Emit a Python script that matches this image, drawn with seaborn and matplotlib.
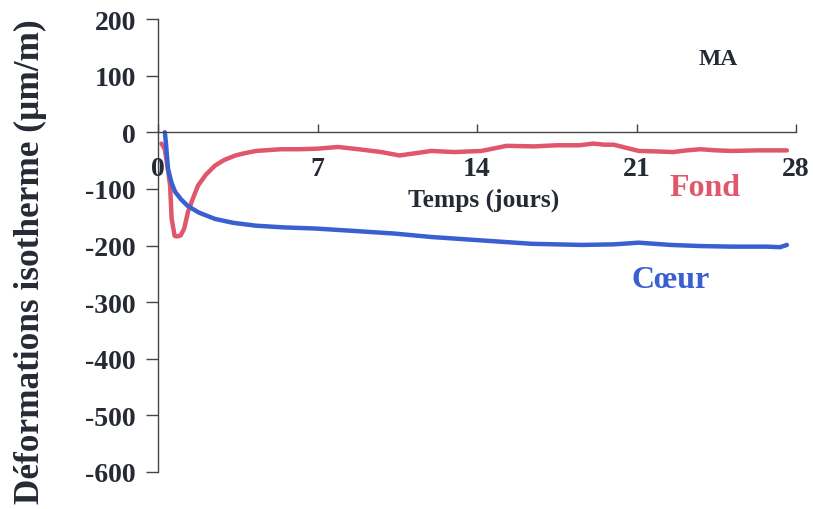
import matplotlib
matplotlib.use("Agg")
import matplotlib.pyplot as plt
import seaborn as sns
import pandas as pd

# Isothermal strain measurements (µm/m) over 28 days
fond_days = [0.15, 0.3, 0.45, 0.53, 0.6, 0.73, 0.85, 1.0, 1.15, 1.32, 1.55, 1.76, 2.1, 2.5,
             2.9, 3.4, 3.8, 4.3, 5.4, 6.2, 7.0, 7.9, 8.8, 9.8, 10.6, 11.3, 12.0, 13.0,
             14.2, 15.3, 16.5, 17.5, 18.5, 19.1, 19.6, 20.0, 20.6, 21.1, 22.0, 22.6,
             23.2, 23.8, 24.5, 25.2, 26.3, 27.6]
fond_vals = [-20, -30, -70, -94, -153, -183, -184, -182, -170, -140, -115, -94, -75, -59,
             -49, -41, -37, -33, -30, -30, -29, -26, -30, -35, -41, -37, -33, -35,
             -33, -24, -25, -23, -23, -20, -22, -22, -28, -33, -34, -35,
             -32, -30, -32, -33, -32, -32]

coeur_days = [0.3, 0.35, 0.44, 0.6, 0.75, 1.0, 1.3, 1.8, 2.5, 3.3, 4.3, 5.5, 6.9, 8.5,
              10.4, 12.0, 14.2, 16.4, 18.6, 20.0, 21.1, 22.5, 23.8, 25.2, 26.7, 27.3, 27.6]
coeur_vals = [0, -20, -65, -90, -105, -118, -130, -142, -153, -160, -165, -168, -170, -174,
              -179, -185, -191, -197, -199, -198, -195, -199, -201, -202, -202, -203, -199]

x_ticks = [0, 7, 14, 21, 28]
y_ticks = [200, 100, 0, -100, -200, -300, -400, -500, -600]

df = pd.concat([
    pd.DataFrame({"jours": fond_days, "def": fond_vals, "zone": "Fond"}),
    pd.DataFrame({"jours": coeur_days, "def": coeur_vals, "zone": "Cœur"}),
])

sns.set_style("white")
plt.rcParams["font.family"] = ["Liberation Serif", "DejaVu Serif"]
plt.rcParams["font.weight"] = "bold"

RED = "#e0566a"
BLUE = "#3a5fd0"
TXT = "#252a35"
AXC = "#444444"

fig = plt.figure(figsize=(8.13, 5.10), dpi=100)
ax = fig.add_axes([158 / 813, 1 - 473 / 510, (796 - 158) / 813, (473 - 20) / 510])

sns.lineplot(data=df, x="jours", y="def", hue="zone", palette={"Fond": RED, "Cœur": BLUE},
             linewidth=3.2, legend=False, ax=ax, estimator=None, sort=False)

ax.set_xlim(0, 28)
ax.set_ylim(-600, 200)
ax.set_xticks(x_ticks)
ax.set_yticks(y_ticks)
ax.set_yticklabels([str(v) for v in y_ticks], fontsize=20, fontweight="bold", color=TXT)
ax.set_xticklabels([])

for s in ["top", "right"]:
    ax.spines[s].set_visible(False)
ax.spines["bottom"].set_position(("data", 0))
for s in ["left", "bottom"]:
    ax.spines[s].set_color(AXC)
    ax.spines[s].set_linewidth(1)
ax.tick_params(axis="y", left=True, direction="out", length=9, width=1, color=AXC, pad=7)
ax.tick_params(axis="x", bottom=True, direction="in", length=6, width=1, color=AXC)

# x tick labels drawn below the zero line
for t in x_ticks:
    ax.text(t, -64, str(t), ha="center", va="center", fontsize=20, fontweight="bold",
            color=TXT)

ax.text(14.3, -118, "Temps (jours)", ha="center", va="center", fontsize=18.4,
        fontweight="bold", color=TXT)
ax.text(24.0, -98, "Fond", ha="center", va="center", fontsize=23, fontweight="bold",
        color=RED)
ax.text(22.5, -260, "Cœur", ha="center", va="center", fontsize=23, fontweight="bold",
        color=BLUE)
ax.text(24.6, 130, "MA", ha="center", va="center", fontsize=17, fontweight="bold",
        color=TXT)

ax.set_xlabel("")
ax.set_ylabel("")
fig.text(30 / 813, 1 - 262 / 510, "Déformations isotherme (µm/m)", rotation=90,
         ha="center", va="center", fontsize=25.4, fontweight="bold", color=TXT)

fig.savefig("out.png", dpi=100, facecolor="white")
